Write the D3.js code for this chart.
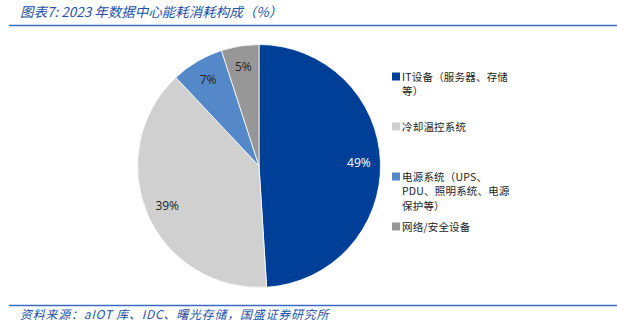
<!DOCTYPE html>
<html><head><meta charset="utf-8">
<script src="https://cdn.jsdelivr.net/npm/d3@7"></script>
<style>
body{margin:0;background:#fff;}
svg{display:block;font-family:"Noto Sans CJK SC","Noto Sans",sans-serif;}
</style></head>
<body>
<svg id="c" width="617" height="332"></svg>
<script>
const categories = ["IT设备（服务器、存储等）","冷却温控系统","电源系统（UPS、PDU、照明系统、电源保护等）","网络/安全设备"];
const values = [49, 39, 7, 5];
const valueLabels = ["49%","39%","7%","5%"];
const legendLines = [["IT设备（服务器、存储","等）"],["冷却温控系统"],["电源系统（UPS、","PDU、照明系统、电源","保护等）"],["网络/安全设备"]];
const colors = ["#003F98","#D0D0D0","#5588C8","#979797"];
const labelColors = ["#ffffff","#222222","#222222","#222222"];

const svg = d3.select("#c");
const blue = "#2451A8";

// title
svg.append("text").attr("x",20).attr("y",17).attr("fill",blue)
  .attr("font-size",13.5).attr("font-style","italic")
  .text("图表7: 2023 年数据中心能耗消耗构成（%）");
svg.append("line").attr("x1",9).attr("x2",617).attr("y1",25.5).attr("y2",25.5)
  .attr("stroke","#3A6BC4").attr("stroke-width",1.5);

// pie
const cx = 259, cy = 166, R = 121.5;
const pie = d3.pie().sort(null).value(d=>d);
const arcs = pie(values);
const arc = d3.arc().innerRadius(0).outerRadius(R);
const labelArc = d3.arc().innerRadius(2*100 - R).outerRadius(R);
const g = svg.append("g").attr("transform",`translate(${cx},${cy})`);
g.selectAll("path").data(arcs).enter().append("path")
  .attr("d",arc).attr("fill",(d,i)=>colors[i])
  .attr("stroke","#ffffff").attr("stroke-width",0.8);
g.selectAll("text.lbl").data(arcs).enter().append("text")
  .attr("class","lbl")
  .attr("transform",d=>`translate(${labelArc.centroid(d)})`)
  .attr("text-anchor","middle").attr("dy","0.35em")
  .attr("font-size",12).attr("font-family","'Open Sans','Noto Sans',sans-serif")
  .attr("fill",(d,i)=>labelColors[i])
  .text((d,i)=>valueLabels[i]);

// legend
const legY = [76.5, 126.5, 176.5, 226.5];
const leg = svg.append("g");
categories.forEach((c,i)=>{
  leg.append("rect").attr("x",392).attr("y",legY[i]-4).attr("width",8).attr("height",8).attr("fill",colors[i]);
  const t = leg.append("text").attr("font-size",10.5).attr("fill","#222").attr("letter-spacing",0.2);
  legendLines[i].forEach((ln,j)=>{
    t.append("tspan").attr("x",402).attr("y",legY[i]+4+j*14.7).text(ln);
  });
});

// footer
svg.append("line").attr("x1",9).attr("x2",617).attr("y1",305.5).attr("y2",305.5)
  .attr("stroke","#3A6BC4").attr("stroke-width",1.5);
svg.append("text").attr("x",20).attr("y",319).attr("fill",blue)
  .attr("font-size",12).attr("font-style","italic").attr("letter-spacing",0.75)
  .text("资料来源：aIOT 库、IDC、曙光存储，国盛证券研究所");
</script>
</body></html>
